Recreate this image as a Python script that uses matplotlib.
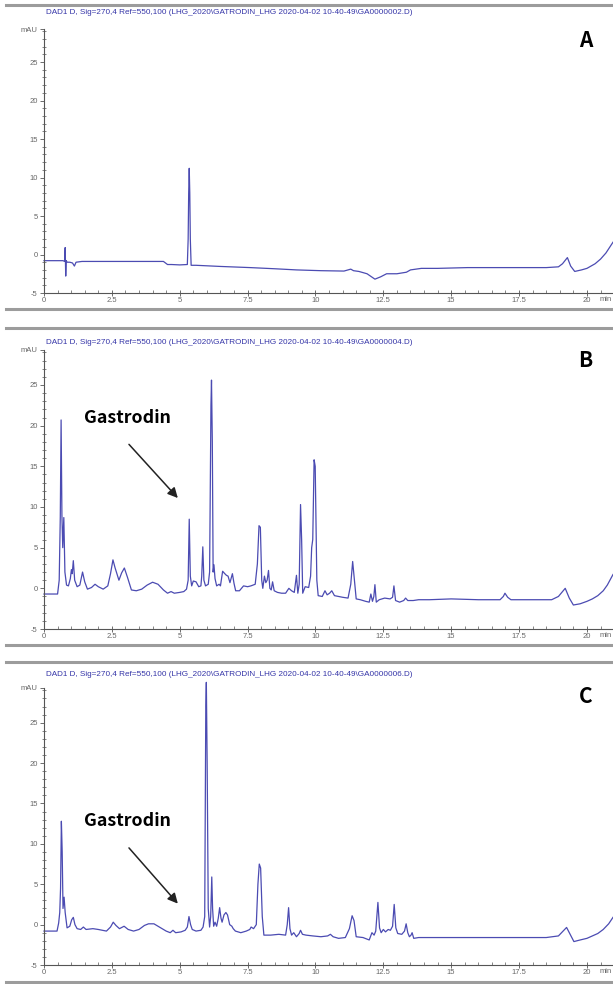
import matplotlib

matplotlib.use("Agg")
import matplotlib.pyplot as plt  # noqa: E402
from matplotlib.lines import Line2D  # noqa: E402
from matplotlib.ticker import MultipleLocator  # noqa: E402

# ---------------------------------------------------------------------------
# Data (retention time in min, signal in mAU)
# ---------------------------------------------------------------------------

a_time = [
    0.00, 0.70, 0.76, 0.78, 0.80, 0.82, 0.85, 0.95, 1.05, 1.12,
    1.18, 1.40, 2.50, 3.50, 4.40, 4.55, 4.70, 5.00, 5.28, 5.31,
    5.33, 5.35, 5.37, 5.39, 5.42, 5.60, 6.50, 7.60, 8.50, 9.30,
    10.20, 11.05, 11.20, 11.30, 11.40, 11.60, 11.90, 12.19, 12.40, 12.62,
    13.00, 13.35, 13.50, 13.90, 14.50, 15.60, 16.50, 17.50, 18.50, 18.95,
    19.10, 19.28, 19.40, 19.55, 19.80, 20.00, 20.30, 20.50, 20.70, 20.96,
]
a_mau = [
    -0.8, -0.8, -0.9, 0.9, -2.8, -0.8, -1.0, -1.0, -1.1, -1.5,
    -1.0, -0.9, -0.9, -0.9, -0.9, -1.3, -1.3, -1.35, -1.3, 2.0,
    8.0, 11.2, 8.0, 2.0, -1.4, -1.4, -1.55, -1.7, -1.85, -2.0,
    -2.1, -2.15, -2.0, -1.9, -2.1, -2.2, -2.5, -3.2, -2.9, -2.5,
    -2.5, -2.3, -2.0, -1.8, -1.8, -1.7, -1.7, -1.7, -1.7, -1.6,
    -1.2, -0.4, -1.5, -2.2, -2.0, -1.8, -1.2, -0.6, 0.2, 1.6,
]

b_time = [
    0.00, 0.50, 0.56, 0.60, 0.63, 0.66, 0.69, 0.73, 0.77, 0.83,
    0.90, 0.97, 1.01, 1.04, 1.08, 1.13, 1.22, 1.32, 1.42, 1.50,
    1.60, 1.75, 1.88, 2.00, 2.18, 2.35, 2.45, 2.54, 2.62, 2.76,
    2.86, 2.96, 3.08, 3.22, 3.40, 3.60, 3.80, 4.00, 4.20, 4.40,
    4.55, 4.68, 4.80, 5.00, 5.15, 5.25, 5.31, 5.35, 5.39, 5.44,
    5.50, 5.60, 5.70, 5.78, 5.81, 5.85, 5.89, 5.95, 6.05, 6.10,
    6.15, 6.17, 6.20, 6.23, 6.26, 6.30, 6.36, 6.45, 6.50, 6.58,
    6.66, 6.72, 6.78, 6.85, 6.94, 7.00, 7.06, 7.20, 7.35, 7.50,
    7.62, 7.78, 7.86, 7.92, 7.97, 8.02, 8.06, 8.12, 8.17, 8.22,
    8.27, 8.32, 8.37, 8.42, 8.48, 8.60, 8.75, 8.90, 9.02, 9.12,
    9.22, 9.30, 9.35, 9.40, 9.45, 9.49, 9.53, 9.62, 9.75, 9.82,
    9.86, 9.90, 9.95, 9.99, 10.05, 10.10, 10.25, 10.35, 10.43, 10.52,
    10.60, 10.70, 10.85, 11.00, 11.20, 11.30, 11.37, 11.42, 11.50, 11.65,
    11.85, 11.98, 12.04, 12.10, 12.15, 12.19, 12.24, 12.35, 12.55, 12.75,
    12.84, 12.89, 12.95, 13.10, 13.25, 13.32, 13.40, 13.60, 13.80, 14.20,
    15.00, 16.00, 16.80, 16.92, 16.98, 17.08, 17.20, 18.00, 18.70, 18.95,
    19.20, 19.35, 19.50, 19.75, 20.00, 20.20, 20.40, 20.60, 20.75, 20.96,
]
b_mau = [
    -0.7, -0.7, 1.0, 8.8, 20.7, 9.0, 5.0, 8.7, 2.0, 0.4,
    0.3, 1.2, 2.3, 1.8, 3.4, 1.0, 0.2, 0.4, 2.0, 0.8,
    -0.1, 0.1, 0.5, 0.2, -0.1, 0.3, 1.8, 3.5, 2.5, 1.0,
    1.9, 2.5, 1.3, -0.2, -0.3, -0.1, 0.4, 0.75, 0.5, -0.2,
    -0.6, -0.4, -0.6, -0.5, -0.4, -0.1, 1.0, 8.5, 1.5, 0.3,
    0.9, 0.8, 0.2, 0.3, 1.5, 5.1, 1.0, 0.3, 0.5, 2.0,
    22.5, 25.6, 18.0, 2.0, 2.9, 1.2, 0.3, 0.5, 0.3, 2.1,
    1.8, 1.6, 1.5, 0.7, 1.8, 0.6, -0.3, -0.3, 0.3, 0.2,
    0.3, 0.5, 3.0, 7.7, 7.5, 1.0, 0.0, 1.5, 0.7, 1.0,
    2.2, 0.0, -0.2, 0.8, -0.3, -0.5, -0.6, -0.6, 0.0, -0.3,
    -0.5, 1.6, -0.6, 0.5, 10.3, 6.0, -0.6, 0.2, 0.1, 1.5,
    5.0, 6.0, 15.8, 15.0, 1.0, -0.9, -1.0, -0.3, -0.8, -0.6,
    -0.3, -0.9, -1.0, -1.1, -1.2, 0.5, 3.3, 1.5, -1.3, -1.4,
    -1.6, -1.7, -0.7, -1.6, -1.0, 0.45, -1.7, -1.4, -1.2, -1.3,
    -1.1, 0.3, -1.5, -1.7, -1.5, -1.2, -1.5, -1.5, -1.4, -1.4,
    -1.3, -1.4, -1.4, -1.0, -0.6, -1.1, -1.4, -1.4, -1.4, -1.0,
    0.0, -1.2, -2.05, -1.9, -1.6, -1.3, -0.9, -0.3, 0.4, 1.7,
]

c_time = [
    0.00, 0.48, 0.54, 0.58, 0.61, 0.64, 0.67, 0.70, 0.74, 0.78,
    0.85, 0.95, 1.02, 1.08, 1.14, 1.22, 1.35, 1.45, 1.55, 1.80,
    2.00, 2.30, 2.45, 2.55, 2.65, 2.78, 2.95, 3.10, 3.30, 3.50,
    3.70, 3.85, 4.05, 4.25, 4.50, 4.65, 4.75, 4.85, 5.05, 5.20,
    5.28, 5.34, 5.40, 5.46, 5.60, 5.78, 5.86, 5.92, 5.96, 5.98,
    6.01, 6.05, 6.10, 6.14, 6.18, 6.21, 6.25, 6.30, 6.36, 6.42,
    6.47, 6.52, 6.56, 6.63, 6.70, 6.76, 6.84, 6.92, 6.97, 7.05,
    7.25, 7.45, 7.58, 7.63, 7.72, 7.82, 7.88, 7.93, 7.98, 8.04,
    8.10, 8.35, 8.65, 8.90, 8.96, 9.01, 9.06, 9.12, 9.20, 9.30,
    9.40, 9.45, 9.52, 9.65, 9.90, 10.20, 10.45, 10.55, 10.65, 10.85,
    11.10, 11.25, 11.35, 11.42, 11.50, 11.75, 11.98, 12.08, 12.16, 12.22,
    12.30, 12.36, 12.42, 12.50, 12.58, 12.68, 12.76, 12.84, 12.90, 12.96,
    13.03, 13.18, 13.28, 13.34, 13.40, 13.46, 13.52, 13.56, 13.62, 13.80,
    14.50, 15.50, 16.50, 17.50, 18.50, 18.95, 19.12, 19.25, 19.38, 19.52,
    19.75, 20.00, 20.20, 20.40, 20.60, 20.80, 20.96,
]
c_mau = [
    -0.8, -0.8, 0.2, 1.5, 4.5, 12.8, 9.0, 2.0, 3.4, 1.5,
    -0.4, -0.2, 0.6, 0.9, 0.0, -0.5, -0.6, -0.3, -0.6, -0.5,
    -0.6, -0.8, -0.3, 0.3, -0.1, -0.5, -0.2, -0.6, -0.8, -0.6,
    -0.1, 0.1, 0.1, -0.3, -0.8, -1.0, -0.7, -1.0, -0.9, -0.7,
    -0.3, 1.0, 0.0, -0.6, -0.8, -0.7, -0.3, 1.0, 27.0, 30.0,
    20.0, 2.0, -0.3, 1.0, 5.9, 2.0, -0.2, 0.3, -0.2, 0.8,
    2.1, 0.8, 0.3, 1.2, 1.5, 1.2, 0.0, -0.2, -0.5, -0.8,
    -1.0, -0.8, -0.6, -0.3, -0.5, 0.0, 5.0, 7.5, 7.0, 1.0,
    -1.3, -1.3, -1.2, -1.3, 0.0, 2.1, -0.5, -1.3, -1.0, -1.5,
    -1.1, -0.7, -1.2, -1.3, -1.4, -1.5, -1.4, -1.2, -1.5, -1.7,
    -1.6, -0.5, 1.1, 0.5, -1.5, -1.6, -1.9, -1.0, -1.3, -0.8,
    2.75, -0.4, -1.0, -0.6, -0.9, -0.6, -0.7, -0.2, 2.5, -0.4,
    -1.1, -1.2, -0.8, 0.1, -1.0, -1.5, -1.3, -1.0, -1.7, -1.6,
    -1.6, -1.6, -1.6, -1.6, -1.6, -1.4, -0.8, -0.35, -1.2, -2.1,
    -1.9, -1.7, -1.4, -1.1, -0.6, 0.1, 0.9,
]

x_ticks = [0, 2.5, 5, 7.5, 10, 12.5, 15, 17.5, 20]
x_tick_labels = ["0", "2.5", "5", "7.5", "10", "12.5", "15", "17.5", "20"]
y_ticks = [-5, 0, 5, 10, 15, 20, 25]
y_tick_labels = ["-5", "0", "5", "10", "15", "20", "25"]

headers = [
    r"DAD1 D, Sig=270,4 Ref=550,100 (LHG_2020\GATRODIN_LHG 2020-04-02 10-40-49\GA0000002.D)",
    r"DAD1 D, Sig=270,4 Ref=550,100 (LHG_2020\GATRODIN_LHG 2020-04-02 10-40-49\GA0000004.D)",
    r"DAD1 D, Sig=270,4 Ref=550,100 (LHG_2020\GATRODIN_LHG 2020-04-02 10-40-49\GA0000006.D)",
]
panel_letters = ["A", "B", "C"]
marker_label = "Gastrodin"

# ---------------------------------------------------------------------------
# Layout (pixel geometry of the 613 x 984 page)
# ---------------------------------------------------------------------------

W, H = 613, 984
X_MAX = 20.96
Y_MIN, Y_TOP = -5, 29.3
LINE_COLOR = "#4b4bb2"
AXIS_COLOR = "#555555"
TICK_TEXT = "#666666"
HEADER_COLOR = "#3535a8"
LABEL_FONT = "Noto Sans CJK KR"


def px_box(top: float, bottom: float, left: float = 44, right: float = 613) -> list[float]:
    return [left / W, 1 - bottom / H, (right - left) / W, (bottom - top) / H]


def style_axis(ax) -> None:
    ax.set_xlim(0, X_MAX)
    ax.set_ylim(Y_MIN, Y_TOP)
    for side in ("top", "right"):
        ax.spines[side].set_visible(False)
    for side in ("left", "bottom"):
        ax.spines[side].set_color(AXIS_COLOR)
        ax.spines[side].set_linewidth(0.8)

    ax.set_xticks(x_ticks)
    ax.set_xticklabels(x_tick_labels)
    ax.set_yticks(y_ticks + [Y_TOP])
    ax.set_yticklabels(y_tick_labels + ["mAU"])
    ax.xaxis.set_minor_locator(MultipleLocator(0.5))
    ax.yaxis.set_minor_locator(MultipleLocator(1))

    common = dict(color=AXIS_COLOR, labelcolor=TICK_TEXT, labelsize=5.5, width=0.6)
    ax.tick_params(axis="y", which="major", direction="out", length=3, pad=1.5, **common)
    ax.tick_params(axis="y", which="minor", direction="inout", length=2.5, width=0.5, color=AXIS_COLOR)
    ax.tick_params(axis="x", which="major", direction="inout", length=4, pad=1.0, **common)
    ax.tick_params(axis="x", which="minor", direction="in", length=2.2, width=0.5, color=AXIS_COLOR)
    for lbl in ax.get_xticklabels() + ax.get_yticklabels():
        lbl.set_family("Liberation Sans")

    ax.annotate("min", xy=(20.45, 0), xycoords=("data", "axes fraction"),
                xytext=(0, -2.2), textcoords="offset points", ha="left", va="top",
                fontsize=5.5, color=TICK_TEXT, family="Liberation Sans")


fig = plt.figure(figsize=(W / 100, H / 100), dpi=100)

panel_boxes = [(29, 293), (350, 629), (688, 965)]
header_y = [13, 342, 674]
traces = [(a_time, a_mau), (b_time, b_mau), (c_time, c_mau)]
letter_y = [27.8, 28.0, 28.2]

for i, ((top, bottom), (t, v)) in enumerate(zip(panel_boxes, traces)):
    ax = fig.add_axes(px_box(top, bottom))
    style_axis(ax)
    ax.plot(t, v, color=LINE_COLOR, linewidth=0.9, clip_on=False)
    fig.text(46 / W, 1 - header_y[i] / H, headers[i], fontsize=5.85, color=HEADER_COLOR,
             family="Liberation Sans", ha="left", va="center")
    ax.text(19.95, letter_y[i], panel_letters[i], ha="center", va="center",
            fontsize=15, fontweight="bold", family=LABEL_FONT)

# Gastrodin annotations in B and C
annot = [(1, 20.9, 17.7, 11.1), (2, 12.8, 9.5, 2.6)]
for idx, text_y, start_y, head_y in annot:
    ax = fig.axes[idx]
    ax.text(1.48, text_y, marker_label, ha="left", va="center", fontsize=12.8,
            fontweight="bold", family=LABEL_FONT)
    ax.annotate("", xy=(4.93, head_y), xytext=(3.13, start_y),
                arrowprops=dict(arrowstyle="-|>,head_length=0.6,head_width=0.3",
                                color="#222222", lw=1.1, shrinkA=0, shrinkB=0))

# grey frame separators between the exported report panels
for y in (5, 309, 328, 645, 662, 982):
    fig.add_artist(Line2D([6 / W, 1.0], [1 - y / H, 1 - y / H], transform=fig.transFigure,
                          color="#9c9c9c", linewidth=2.2))

fig.savefig("out.png", dpi=100)
